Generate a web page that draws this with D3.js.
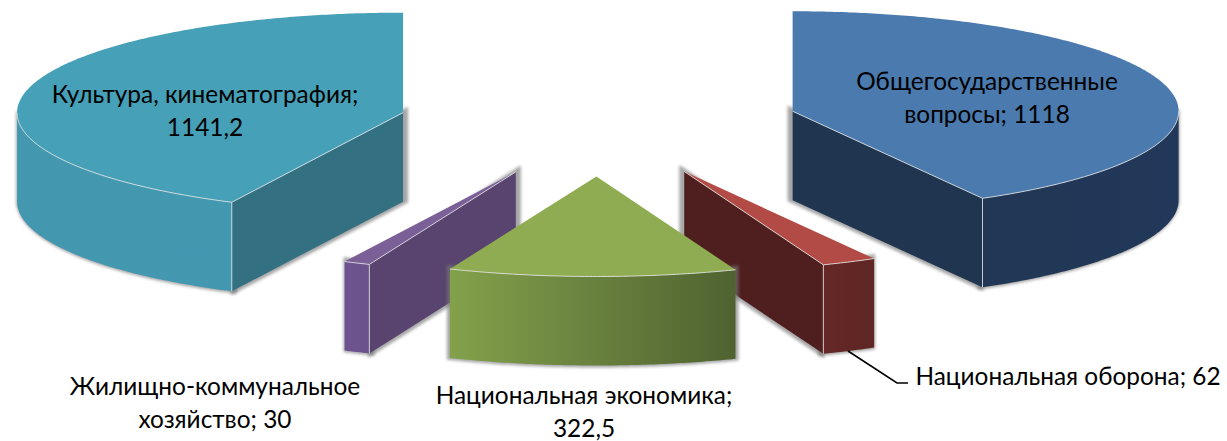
<!DOCTYPE html>
<html><head><meta charset="utf-8">
<script src="https://cdn.jsdelivr.net/npm/d3@7/dist/d3.min.js"></script>
<style>html,body{margin:0;background:#fff}svg{display:block}text{font-family:Lato,"Noto Sans",sans-serif;font-size:24.4px;fill:#000}</style>
</head><body><div id="c"></div>
<script>
const categories=["Общегосударственные вопросы","Национальная оборона","Национальная экономика","Жилищно-коммунальное хозяйство","Культура, кинематография"];
const values=[1118,62,322.5,30,1141.2];
const topColors=["#4a7aae","#b24b45","#8fac52","#7b5f97","#46a0b8"];
const faceColors=["#1f3550","#4f1f1f","#4f6230","#58446e","#327082"];
const wallStops=[["#21364f","#22385a"],["#652826","#5f2624"],["#83a14b","#4f6230"],["#6d5490","#6a528c"],["#4398b0","#4499b2"]];
const lineBreaks=[1,99,2,1,2];
const drawOrder=[4,0,3,1,2];

const W=1227,H=441,cx=598.5,cy=124.5,rx=386,ry=100,depth=89,explode=0.52;
const svg=d3.select("#c").append("svg").attr("width",W).attr("height",H);
const defs=svg.append("defs");
const x=d3.scaleLinear().domain([-1,1]).range([cx-rx,cx+rx]);
const y=d3.scaleLinear().domain([-1,1]).range([cy-ry,cy+ry]);
const arcs=d3.pie().sort(null).value(d=>d)(values);
const line=d3.line();

const f=defs.append("filter").attr("id","sh").attr("x","-20%").attr("y","-20%").attr("width","140%").attr("height","140%");
f.append("feGaussianBlur").attr("stdDeviation",1.6);

function geom(a){
  const mid=(a.startAngle+a.endAngle)/2;
  const ox=explode*Math.sin(mid),oy=-explode*Math.cos(mid);
  const P=t=>[x(ox+Math.sin(t)),y(oy-Math.cos(t))];
  const apex=[x(ox),y(oy)];
  const samples=(s,e)=>{const n=Math.max(2,Math.ceil((e-s)/0.01));return d3.range(n+1).map(i=>P(s+(e-s)*i/n));};
  return {P,apex,samples};
}
const down=p=>[p[0],p[1]+depth];

arcs.forEach((a,i)=>{
  const lg=defs.append("linearGradient").attr("id","w"+i).attr("gradientUnits","userSpaceOnUse");
  const g=geom(a);
  const xs=g.samples(a.startAngle,a.endAngle).map(p=>p[0]);
  lg.attr("x1",d3.min(xs)).attr("x2",d3.max(xs)).attr("y1",0).attr("y2",0);
  lg.append("stop").attr("offset",0).attr("stop-color",wallStops[i][0]);
  lg.append("stop").attr("offset",1).attr("stop-color",wallStops[i][1]);
});

const edge="rgba(235,235,235,.8)";
drawOrder.forEach(i=>{
  const a=arcs[i],g=geom(a),G=svg.append("g");
  const vs=Math.max(a.startAngle,Math.PI/2),ve=Math.min(a.endAngle,Math.PI*1.5);
  const hasWall=ve>vs;
  const wallPts=hasWall?g.samples(vs,ve):[];
  const wall=hasWall?[...wallPts,...wallPts.slice().reverse().map(down)]:[];
  let face=null,faceEnd=null;
  if(a.endAngle<=Math.PI){faceEnd=g.P(a.endAngle);}
  else if(a.startAngle>=Math.PI){faceEnd=g.P(a.startAngle);}
  if(faceEnd)face=[g.apex,faceEnd,down(faceEnd),down(g.apex)];
  const toward=g.apex[0]>cx?-1:g.apex[0]<cx-5?1:0;
  [wall,face].forEach(s=>{if(s&&s.length)G.append("path").attr("d",line(s)+"Z")
    .attr("fill","#777").attr("stroke","#777").attr("stroke-width",6).attr("opacity",.65)
    .attr("filter","url(#sh)").attr("transform",`translate(${toward*2},${-1})`);});
  if(face)G.append("path").attr("d",line(face)+"Z").attr("fill",faceColors[i]);
  if(hasWall)G.append("path").attr("d",line(wall)+"Z").attr("fill",`url(#w${i})`);
  if(face&&hasWall)G.append("path").attr("d",line([faceEnd,down(faceEnd)])).attr("stroke",edge).attr("fill","none");
  const top=[g.apex,...g.samples(a.startAngle,a.endAngle)];
  G.append("path").attr("d",line(top)+"Z").attr("fill",topColors[i]);
  if(hasWall)G.append("path").attr("d",line(wallPts)).attr("stroke",edge).attr("fill","none");
  if(face)G.append("path").attr("d",line([g.apex,faceEnd])).attr("stroke",edge).attr("fill","none");
});

svg.append("path").attr("d",line([[848,351],[897,383],[908,383]])).attr("fill","none").attr("stroke","#000").attr("stroke-width",1.6);

const fmt=v=>String(v).replace(".",",");
const labelAt=[[987,90],[1068,385],[584,404],[215,395],[205,103]];
const lineGap=33;
arcs.forEach((a,i)=>{
  const words=`${categories[i]}; ${fmt(values[i])}`.split(" ");
  const b=lineBreaks[i];
  const lines=b>=words.length?[words.join(" ")]:[words.slice(0,b).join(" "),words.slice(b).join(" ")];
  const t=svg.append("text").attr("text-anchor","middle");
  lines.forEach((l,k)=>t.append("tspan").attr("x",labelAt[i][0]).attr("y",labelAt[i][1]+k*lineGap).text(l));
});
</script></body></html>
